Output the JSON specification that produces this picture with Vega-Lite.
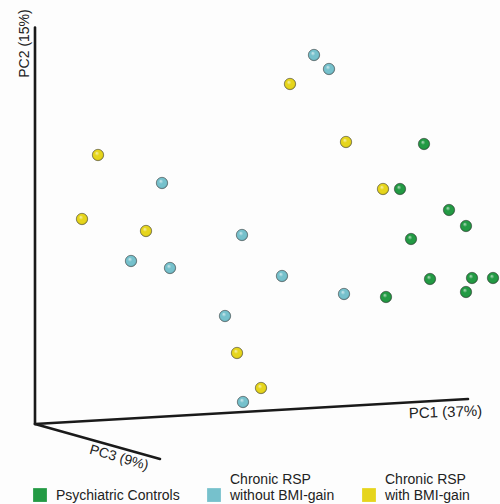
{
  "$schema": "https://vega.github.io/schema/vega-lite/v6.json",
  "width": 500,
  "height": 504,
  "autosize": {"type": "none"},
  "padding": 0,
  "background": "#fdfdfd",
  "config": {"view": {"stroke": null}, "font": "Liberation Sans"},
  "datasets": {
    "samples": [
      {"group": "Chronic RSP with BMI-gain", "pc1": 12.6, "pc2": 53.8},
      {"group": "Chronic RSP with BMI-gain", "pc1": 9.4, "pc2": 41.0},
      {"group": "Chronic RSP with BMI-gain", "pc1": 22.2, "pc2": 38.6},
      {"group": "Chronic RSP with BMI-gain", "pc1": 51.0, "pc2": 68.0},
      {"group": "Chronic RSP with BMI-gain", "pc1": 62.2, "pc2": 56.4},
      {"group": "Chronic RSP with BMI-gain", "pc1": 69.6, "pc2": 47.0},
      {"group": "Chronic RSP with BMI-gain", "pc1": 40.4, "pc2": 14.2},
      {"group": "Chronic RSP with BMI-gain", "pc1": 45.2, "pc2": 7.2},
      {"group": "Chronic RSP without BMI-gain", "pc1": 25.4, "pc2": 48.2},
      {"group": "Chronic RSP without BMI-gain", "pc1": 41.4, "pc2": 37.8},
      {"group": "Chronic RSP without BMI-gain", "pc1": 19.2, "pc2": 32.6},
      {"group": "Chronic RSP without BMI-gain", "pc1": 27.0, "pc2": 31.2},
      {"group": "Chronic RSP without BMI-gain", "pc1": 49.4, "pc2": 29.6},
      {"group": "Chronic RSP without BMI-gain", "pc1": 61.8, "pc2": 26.0},
      {"group": "Chronic RSP without BMI-gain", "pc1": 38.0, "pc2": 21.6},
      {"group": "Chronic RSP without BMI-gain", "pc1": 41.6, "pc2": 4.4},
      {"group": "Chronic RSP without BMI-gain", "pc1": 55.8, "pc2": 73.8},
      {"group": "Chronic RSP without BMI-gain", "pc1": 58.8, "pc2": 71.0},
      {"group": "Psychiatric Controls", "pc1": 77.8, "pc2": 56.0},
      {"group": "Psychiatric Controls", "pc1": 73.0, "pc2": 47.0},
      {"group": "Psychiatric Controls", "pc1": 82.8, "pc2": 42.8},
      {"group": "Psychiatric Controls", "pc1": 86.2, "pc2": 39.6},
      {"group": "Psychiatric Controls", "pc1": 75.2, "pc2": 37.0},
      {"group": "Psychiatric Controls", "pc1": 79.0, "pc2": 29.0},
      {"group": "Psychiatric Controls", "pc1": 87.4, "pc2": 29.2},
      {"group": "Psychiatric Controls", "pc1": 91.6, "pc2": 29.2},
      {"group": "Psychiatric Controls", "pc1": 86.2, "pc2": 26.4},
      {"group": "Psychiatric Controls", "pc1": 70.2, "pc2": 25.4}
    ],
    "axes3d": [
      {"axis": "PC1", "label": "PC1 (37%)", "pc1": 0, "pc2": 0, "pc1_end": 86.6, "pc2_end": 5.0, "lx": 82.1, "ly": 2.4},
      {"axis": "PC2", "label": "PC2 (15%)", "pc1": 0, "pc2": 0, "pc1_end": 0, "pc2_end": 79.3, "lx": -2.0, "ly": 76.1},
      {"axis": "PC3", "label": "PC3 (9%)", "pc1": 0, "pc2": 0, "pc1_end": 25.0, "pc2_end": -7.0, "lx": 16.8, "ly": -6.8}
    ]
  },
  "layer": [
    {
      "data": {"name": "axes3d"},
      "mark": {"type": "rule", "color": "#1a1a1a", "strokeWidth": 2.6, "strokeCap": "round"},
      "encoding": {
        "x": {"field": "pc1", "type": "quantitative", "scale": {"domain": [-7, 93], "nice": false, "zero": false}, "axis": null},
        "y": {"field": "pc2", "type": "quantitative", "scale": {"domain": [-16, 84.8], "nice": false, "zero": false}, "axis": null},
        "x2": {"field": "pc1_end"},
        "y2": {"field": "pc2_end"}
      }
    },
    {
      "data": {"name": "axes3d"},
      "transform": [{"filter": "datum.axis == 'PC1'"}],
      "mark": {"type": "text", "fontSize": 15, "angle": 358, "color": "#222", "align": "center", "baseline": "middle"},
      "encoding": {
        "x": {"field": "lx", "type": "quantitative"},
        "y": {"field": "ly", "type": "quantitative"},
        "text": {"field": "label"}
      }
    },
    {
      "data": {"name": "axes3d"},
      "transform": [{"filter": "datum.axis == 'PC2'"}],
      "mark": {"type": "text", "fontSize": 14, "angle": 270, "color": "#222", "align": "center", "baseline": "middle"},
      "encoding": {
        "x": {"field": "lx", "type": "quantitative"},
        "y": {"field": "ly", "type": "quantitative"},
        "text": {"field": "label"}
      }
    },
    {
      "data": {"name": "axes3d"},
      "transform": [{"filter": "datum.axis == 'PC3'"}],
      "mark": {"type": "text", "fontSize": 14, "angle": 16, "color": "#222", "align": "center", "baseline": "middle"},
      "encoding": {
        "x": {"field": "lx", "type": "quantitative"},
        "y": {"field": "ly", "type": "quantitative"},
        "text": {"field": "label"}
      }
    },
    {
      "data": {"name": "samples"},
      "mark": {"type": "circle", "size": 130, "opacity": 1, "stroke": "#2a2a2a", "strokeWidth": 0.7, "strokeOpacity": 0.7},
      "encoding": {
        "x": {"field": "pc1", "type": "quantitative"},
        "y": {"field": "pc2", "type": "quantitative"},
        "color": {
          "field": "group",
          "type": "nominal",
          "scale": {
            "domain": ["Psychiatric Controls", "Chronic RSP without BMI-gain", "Chronic RSP with BMI-gain"],
            "range": ["#239a44", "#76c1cc", "#e6d51c"]
          },
          "legend": {
            "orient": "none",
            "legendX": 33,
            "legendY": 473,
            "direction": "horizontal",
            "title": null,
            "padding": 0,
            "symbolType": "M-1,1.18L1,1.18L1,3.18L-1,3.18Z",
            "symbolSize": 190,
            "symbolStrokeWidth": 0,
            "symbolOpacity": 1,
            "labelFontSize": 14,
            "labelColor": "#222",
            "labelOffset": 9,
            "labelLimit": 300,
            "labelLineHeight": 15,
            "columnPadding": 27,
            "labelExpr": "datum.label == 'Psychiatric Controls' ? ['', 'Psychiatric Controls'] : datum.label == 'Chronic RSP without BMI-gain' ? ['\u00a0\u00a0\u00a0Chronic RSP', 'without BMI-gain\u00a0\u00a0\u00a0\u00a0'] : ['Chronic RSP', 'with BMI-gain']"
          }
        }
      }
    },
    {
      "data": {"name": "samples"},
      "mark": {
        "type": "circle",
        "size": 130,
        "opacity": 1,
        "fill": {
          "gradient": "radial",
          "x1": 0.38, "y1": 0.32, "r1": 0,
          "x2": 0.5, "y2": 0.5, "r2": 0.55,
          "stops": [
            {"offset": 0, "color": "rgba(255,255,255,0.7)"},
            {"offset": 0.35, "color": "rgba(255,255,255,0)"},
            {"offset": 0.75, "color": "rgba(0,0,0,0)"},
            {"offset": 1, "color": "rgba(0,0,0,0.3)"}
          ]
        }
      },
      "encoding": {
        "x": {"field": "pc1", "type": "quantitative"},
        "y": {"field": "pc2", "type": "quantitative"}
      }
    }
  ]
}
